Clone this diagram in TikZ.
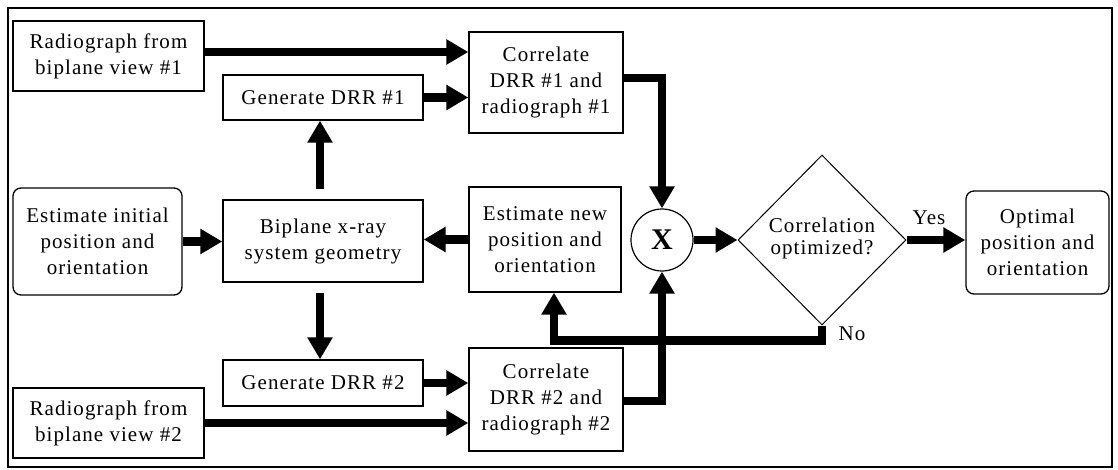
\documentclass[tikz,border=0pt]{standalone}
\usepackage{fontspec}
\setmainfont[LetterSpace=5]{Liberation Serif}
\usetikzlibrary{arrows.meta,shapes.geometric}
\tikzset{
  box/.style={draw, line width=1.3pt, inner sep=0pt, align=center, font=\fontsize{21}{26}\selectfont},
  rbox/.style={box, rounded corners=8pt},
  arr/.style={line width=8.5pt, -{Triangle[length=22pt,width=24pt]}},
  lbl/.style={font=\fontsize{21}{26}\selectfont, inner sep=0pt}
}
\begin{document}
\begin{tikzpicture}[x=1pt,y=-1pt]
\useasboundingbox (0,0) rectangle (1118,470);
\draw[line width=1.5pt] (8,8) rectangle (1112,467);

\node[box, minimum width=191pt, minimum height=70pt] (rad1) at (108.5,56) {Radiograph from\\biplane view \#1};
\node[box, minimum width=200pt, minimum height=45pt] (gen1) at (323,97.5) {Generate DRR \#1};
\node[box, minimum width=154pt, minimum height=101pt] (corr1) at (546,82.5) {Correlate\\DRR \#1 and\\radiograph \#1};
\node[rbox, minimum width=169pt, minimum height=107pt] (est0) at (97.5,241.5) {Estimate initial\\position and\\orientation};
\node[box, minimum width=200pt, minimum height=82pt] (bip) at (323,241) {Biplane x-ray\\system geometry};
\node[box, minimum width=152pt, minimum height=105pt] (estn) at (545,239.5) {Estimate new\\position and\\orientation};
\node[draw, circle, line width=1.2pt, minimum size=62pt, inner sep=0pt, font=\fontsize{30}{30}\selectfont\bfseries] (X) at (662,240) {X};
\node[draw, diamond, shape aspect=1, line width=1pt, minimum width=168pt, minimum height=170pt, inner sep=0pt] (dia) at (822,240) {};
\node[lbl, align=center, font=\fontsize{21}{22}\selectfont] (diat) at (822,238) {Correlation\\optimized?};
\node[rbox, minimum width=143pt, minimum height=103pt] (opt) at (1037.5,242.5) {Optimal\\position and\\orientation};
\node[box, minimum width=200pt, minimum height=46pt] (gen2) at (323,383) {Generate DRR \#2};
\node[box, minimum width=191pt, minimum height=70pt] (rad2) at (108.5,423) {Radiograph from\\biplane view \#2};
\node[box, minimum width=154pt, minimum height=103pt] (corr2) at (546,399.5) {Correlate\\DRR \#2 and\\radiograph \#2};

\node[lbl] (yes) at (929,218) {Yes};
\node[lbl] (no) at (852,334) {No};

\draw[arr] ([yshift=4pt]rad1.east) -- ([yshift=4pt]rad1.east -| corr1.west);
\draw[arr] (gen1.east) -- (gen1.east -| corr1.west);
\draw[arr, shorten <=10pt] ([xshift=-3pt]bip.north) -- ([xshift=-3pt]gen1.south);
\draw[arr, shorten <=10pt] ([xshift=-3pt]bip.south) -- ([xshift=-3pt]gen2.north);
\draw[arr] (est0.east) -- (est0.east -| bip.west);
\draw[arr] (estn.west) -- (estn.west -| bip.east);
\draw[arr] (gen2.east) -- (gen2.east -| corr2.west);
\draw[arr] (rad2.east) -- (rad2.east -| corr2.west);
\draw[arr] ([yshift=4.5pt]corr1.east) -| (X.north);
\draw[arr] ([yshift=-1.5pt]corr2.east) -| (X.south);
\draw[arr] (X.east) -- (dia.west);
\draw[arr] (dia.east) -- (dia.east -| opt.west);
\draw[arr] (dia.south) -- ++(0,15) -| ([xshift=9pt]estn.south);
\end{tikzpicture}
\end{document}
